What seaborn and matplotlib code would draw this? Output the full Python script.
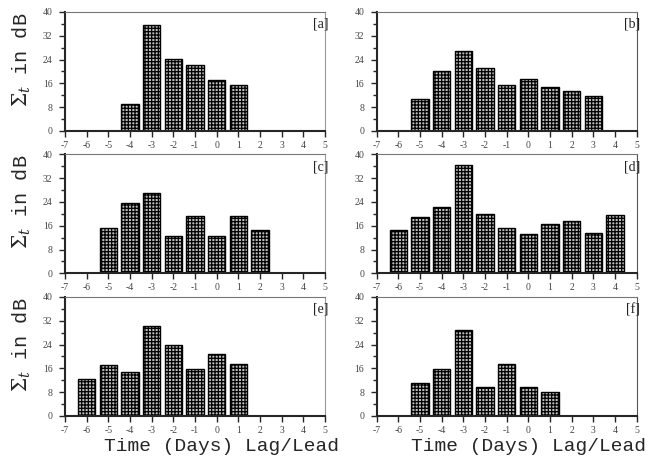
import matplotlib.pyplot as plt
import numpy as np
import pandas as pd
import seaborn as sns

sns.set_style('ticks')
plt.rcParams['font.family'] = ['Liberation Mono', 'DejaVu Sans']
plt.rcParams['mathtext.fontset'] = 'dejavuserif'
plt.rcParams['hatch.linewidth'] = 0.9

# values (lag in days -> Sigma_t in dB)
lags_a = [-4, -3, -2, -1, 0, 1]
vals_a = [9.1, 35.6, 24.3, 22.1, 17.0, 15.3]
lags_b = [-5, -4, -3, -2, -1, 0, 1, 2, 3]
vals_b = [10.9, 20.1, 27.0, 21.2, 15.3, 17.4, 14.8, 13.6, 11.8]
lags_c = [-5, -4, -3, -2, -1, 0, 1, 2]
vals_c = [15.2, 23.5, 27.0, 12.7, 19.1, 12.7, 19.1, 14.5]
lags_d = [-6, -5, -4, -3, -2, -1, 0, 1, 2, 3, 4]
vals_d = [14.5, 18.8, 22.2, 36.5, 20.1, 15.3, 13.1, 16.6, 17.5, 13.6, 19.6]
lags_e = [-6, -5, -4, -3, -2, -1, 0, 1]
vals_e = [12.4, 17.0, 14.9, 30.1, 24.0, 15.7, 21.0, 17.5]
lags_f = [-5, -4, -3, -2, -1, 0, 1]
vals_f = [11.1, 15.8, 28.9, 9.7, 17.6, 9.7, 8.0]

panels = [('[a]', lags_a, vals_a), ('[b]', lags_b, vals_b),
          ('[c]', lags_c, vals_c), ('[d]', lags_d, vals_d),
          ('[e]', lags_e, vals_e), ('[f]', lags_f, vals_f)]

x_ticks = list(range(-7, 6))
y_ticks = [0, 8, 16, 24, 32, 40]

fig = plt.figure(figsize=(6.52, 4.62), dpi=100)

lefts = [0.0997, 0.5778]
bottoms = [0.7165, 0.4084, 0.0996]
w, h = 0.3988, 0.2576

for i, (tag, lags, vals) in enumerate(panels):
    row, col = divmod(i, 2)
    ax = fig.add_axes([lefts[col], bottoms[row], w, h])
    df = pd.DataFrame({'lag': lags, 'value': vals})
    sns.barplot(data=df, x='lag', y='value', native_scale=True, ax=ax,
                color='#bdbdbd', saturation=1, width=0.8, errorbar=None,
                edgecolor='black', linewidth=1)
    for p in ax.patches:
        p.set_hatch('+++++')

    ax.set_xlim(-7, 5)
    ax.set_ylim(0, 40)
    ax.set_xticks(x_ticks)
    ax.set_xticklabels([str(t) for t in x_ticks])
    ax.set_yticks(y_ticks)
    ax.set_yticks([4, 12, 20, 28, 36], minor=True)
    ax.tick_params(axis='both', which='major', direction='out', length=4,
                   width=1, labelsize=7, labelcolor='#444444')
    ax.tick_params(axis='x', pad=3)
    ax.tick_params(axis='y', pad=5)
    ax.tick_params(axis='y', which='minor', direction='out', length=3, width=1)
    for lab in ax.get_xticklabels() + ax.get_yticklabels():
        lab.set_family('Liberation Serif')

    ax.spines['left'].set_linewidth(1.5)
    ax.spines['bottom'].set_linewidth(1.5)
    ax.spines['top'].set_color('#777777')
    ax.spines['right'].set_color('#999999' if col == 0 else '#555555')

    ax.text(1.012, 0.95, tag, transform=ax.transAxes, ha='right', va='top',
            fontsize=10, family='Liberation Serif', color='#222222')

    ax.set_xlabel('')
    if col == 0:
        ax.set_ylabel(r'$\Sigma_t$ in dB', fontsize=14.5, va='center')
        ax.yaxis.set_label_coords(-0.165, 0.6)
    else:
        ax.set_ylabel('')
    if row == 2:
        ax.set_xlabel('Time (Days) Lag/Lead', fontsize=14, va='center')
        ax.xaxis.set_label_coords(0.6 if col == 0 else 0.585, -0.26)

fig.savefig('out.png', dpi=100)
